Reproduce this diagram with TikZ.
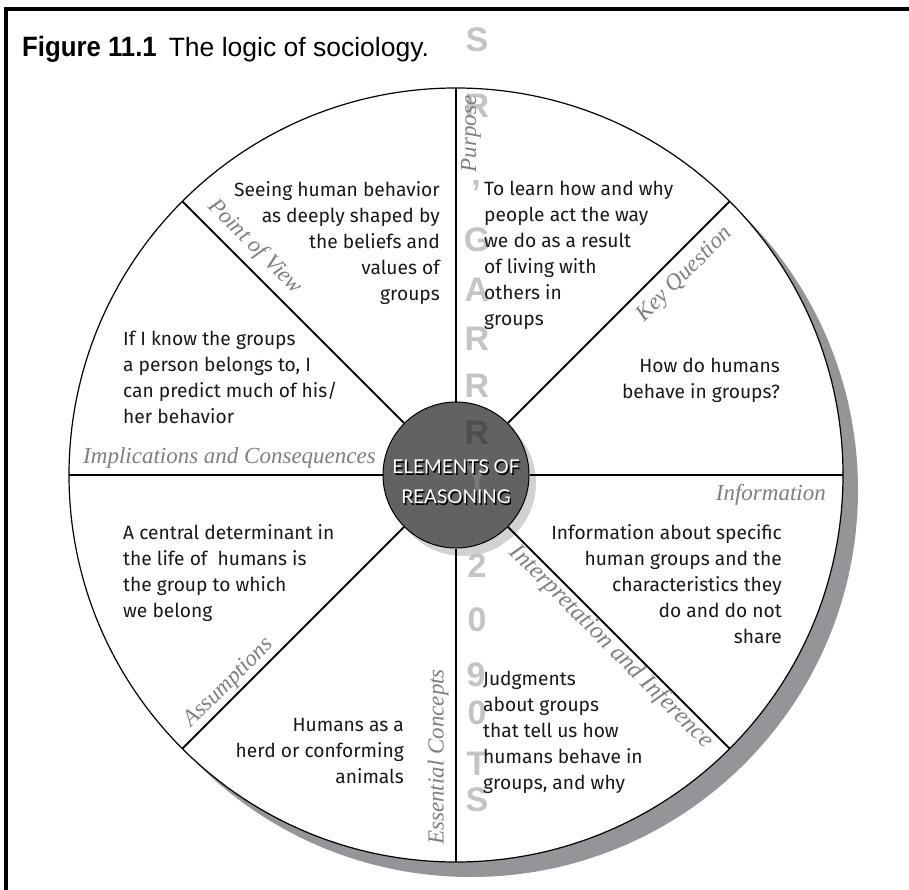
\documentclass[tikz,border=0pt]{standalone}
\usepackage{fontspec}
\setmainfont{Liberation Serif}
\newfontfamily\bodyfont{Fira Sans}
\newfontfamily\hubfont{Lato}
\newfontfamily\titlefont{Liberation Sans}
\newfontfamily\titleboldfont[FakeStretch=0.92]{Liberation Sans Bold}
\newfontfamily\markfont{Liberation Sans Bold}
\usetikzlibrary{calc}
\definecolor{rimshadow}{HTML}{939598}
\definecolor{hubfill}{HTML}{616264}
\definecolor{hubshadow}{HTML}{D1D2D3}
\definecolor{labelgrey}{HTML}{7F7F7F}
\definecolor{markgrey}{HTML}{C4C4C4}
\definecolor{markdark}{HTML}{4E4E50}

\begin{document}
\begin{tikzpicture}[x=1pt,y=1pt,
  rimline/.style={line width=1.2pt},
  spoke/.style={line width=2pt},
  lab/.style={font=\itshape\fontsize{23}{23}\selectfont, text=labelgrey, inner sep=0pt},
  body/.style={font=\bodyfont\fontsize{19.2}{26}\selectfont, inner sep=0pt, text=black!90},
  wmark/.style={font=\markfont\fontsize{34}{34}\selectfont, text=markgrey, inner sep=0pt},
]
\useasboundingbox (0,0) rectangle (909,-890);
\fill[white] (0,0) rectangle (909,-890);

% page frame
\draw[line width=4pt] (6,-890) -- (6,-9) -- (909,-9);

% caption
\node[anchor=base west, inner sep=0pt, font=\titlefont\fontsize{26.5}{26.5}\selectfont] (title) at (22,-57)
  {{\titleboldfont\fontsize{28}{28}\selectfont Figure 11.1}\hspace{12pt}The logic of sociology.};

% wheel with its drop shadow
\coordinate (c) at (456,-475);
\fill[rimshadow] ($(c)+(15,-15)$) circle (387);
\filldraw[fill=white, rimline] (c) circle (387);

% rim points of the eight spokes
\foreach \a/\n in {0/r0,45/r45,90/r90,135/r135,180/r180,225/r225,270/r270,315/r315}
  \coordinate (\n) at ($(c)+(\a:387)$);

% hub
\fill[hubshadow] ($(c)+(7,-8)$) circle (73);
\node[circle, draw, line width=1pt, fill=hubfill, minimum size=146pt, inner sep=0pt] (hub) at (c) {};
\foreach \n in {r0,r45,r90,r135,r180,r225,r270,r315}
  \draw[spoke] (hub) -- (\n);

% vertical letter column
\node[wmark] (w1) at (477,-40) {S};
\node[wmark] (w2) at (477,-106) {R};
\node[wmark] (w3) at (476,-186) {,};
\node[wmark] (w4) at (477,-240) {G};
\node[wmark] (w5) at (477,-290) {A};
\node[wmark] (w6) at (477,-339) {R};
\node[wmark] (w7) at (477,-386) {R};
\node[wmark, text=markdark] (w8) at (477,-433) {R};
\node[wmark, text=hubfill!85!white] (w9) at (477,-478) {Y};
\node[wmark] (w10) at (477,-566) {2};
\node[wmark] (w11) at (477,-620) {0};
\node[wmark] (w12) at (476,-675) {9};
\node[wmark] (w13) at (477,-713) {0};
\node[wmark] (w14) at (477,-764) {T};
\node[wmark] (w15) at (477,-800) {S};

% hub caption with its dark drop shadow
\node[font=\hubfont\fontsize{19}{30}\selectfont, text=black, align=center] at (457.5,-483.5) {ELEMENTS OF\\REASONING};
\node[font=\hubfont\fontsize{19}{30}\selectfont, text=white, align=center] (hubtext) at (456,-482) {ELEMENTS OF\\REASONING};

% spoke labels
\node[lab, rotate=90] (purpose) at (471,-134) {Purpose};
\node[lab, rotate=45] (keyq) at (685,-275) {Key Question};
\node[lab, anchor=base east] (info) at (826,-500) {Information};
\node[lab, rotate=-45, font=\itshape\fontsize{24.5}{24.5}\selectfont] (interp) at (611,-647) {Interpretation and Inference};
\node[lab, rotate=90] (concepts) at (438,-757) {Essential Concepts};
\node[lab, rotate=45] (assum) at (229,-683) {Assumptions};
\node[lab, anchor=base east] (impl) at (376,-463) {Implications and Consequences};
\node[lab, rotate=-45] (pov) at (255,-247) {Point of View};

% sector texts
\node[body, anchor=north west, align=left] (tpurpose) at (484,-181)
  {To learn how and why\\people act the way\\we do as a result\\of living with\\others in\\groups};
\node[body, anchor=north east, align=right] (tpov) at (440,-181)
  {Seeing human behavior\\as deeply shaped by\\the beliefs and\\values of\\groups};
\node[body, anchor=north east, align=right] (tkeyq) at (780,-358)
  {How do humans\\behave in groups?};
\node[body, anchor=north west, align=left] (timpl) at (123,-331)
  {If I know the groups\\a person belongs to, I\\can predict much of his/\\her behavior};
\node[body, anchor=north east, align=right] (tinfo) at (782,-524)
  {Information about specific\\human groups and the\\characteristics they\\do and do not\\share};
\node[body, anchor=north west, align=left] (tassum) at (123,-524)
  {A central determinant in\\the life of\ \ humans is\\the group to which\\we belong};
\node[body, anchor=north east, align=right] (tconcepts) at (404,-718)
  {Humans as a\\herd or conforming\\animals};
\node[body, anchor=north west, align=left] (tinterp) at (483,-671)
  {Judgments\\about groups\\that tell us how\\humans behave in\\groups, and why};
\end{tikzpicture}
\end{document}
